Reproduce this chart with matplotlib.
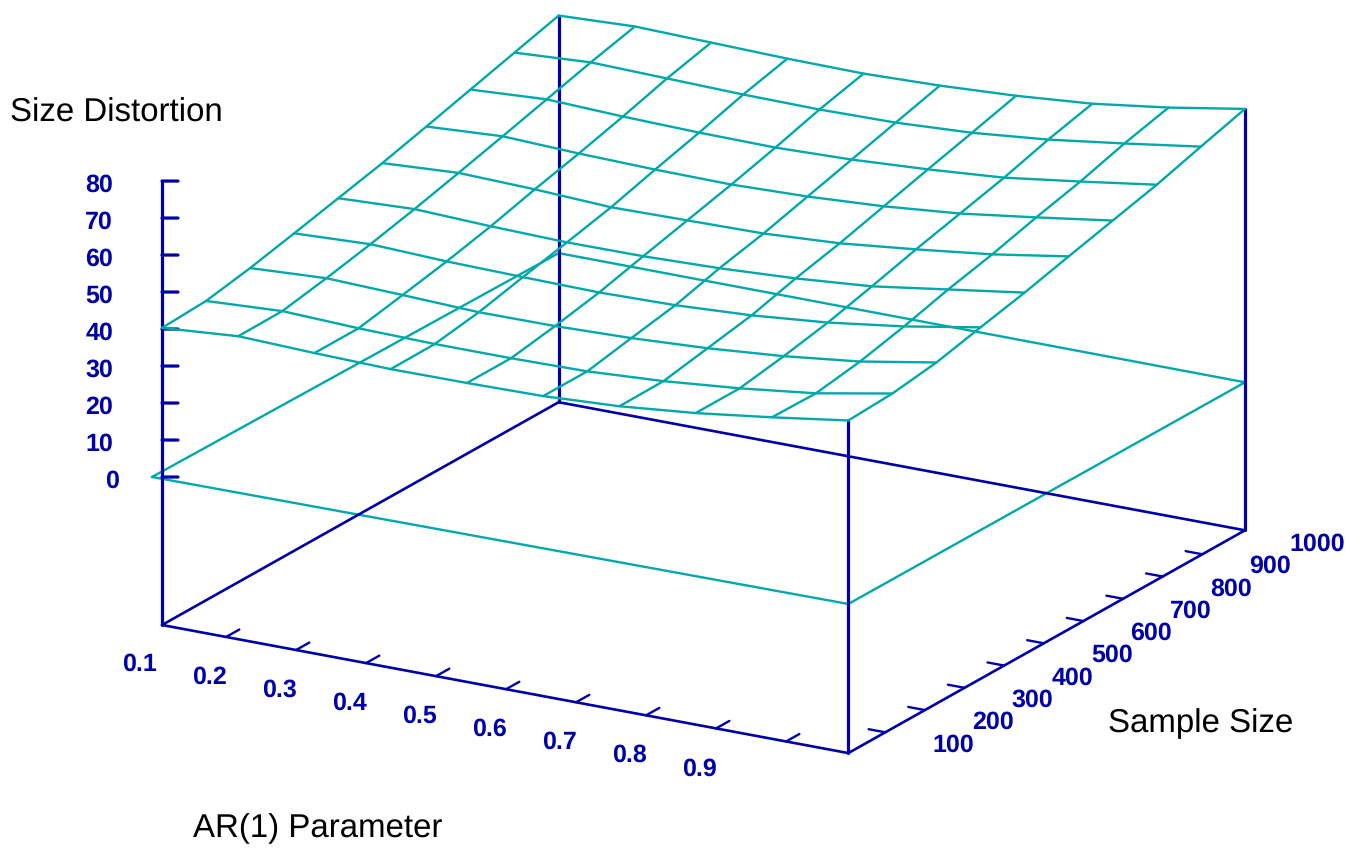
import matplotlib
matplotlib.use("Agg")
import matplotlib.pyplot as plt
from mpl_toolkits.mplot3d import proj3d

# ---- data ----
AR_GRID = [0.1085, 0.2174, 0.3263, 0.4352, 0.5441, 0.6530, 0.7619, 0.8708, 0.9797, 1.0889]
SAMPLE_GRID = [6.7, 117.9, 229.1, 340.3, 451.5, 562.7, 673.9, 785.1, 896.3, 1007.7]
DISTORTION = [
    [40.3, 41.9, 41.2, 40.7, 40.8, 41.1, 42.2, 44.2, 46.9, 49.9],
    [40.9, 42.0, 41.2, 40.8, 40.8, 41.1, 42.3, 44.2, 46.7, 50.5],
    [43.1, 44.2, 43.5, 42.7, 42.8, 43.4, 44.5, 46.2, 48.6, 52.2],
    [45.8, 46.7, 45.9, 45.5, 45.2, 45.6, 46.7, 48.6, 51.4, 55.0],
    [48.6, 49.5, 48.7, 48.2, 48.3, 48.9, 50.0, 51.7, 54.7, 57.7],
    [51.4, 52.6, 52.0, 51.0, 51.3, 51.6, 52.8, 55.0, 57.5, 60.8],
    [54.6, 55.8, 55.0, 54.5, 54.3, 54.9, 56.1, 58.0, 60.8, 63.8],
    [57.9, 59.1, 58.3, 57.8, 57.6, 58.2, 59.4, 61.0, 63.8, 66.8],
    [61.2, 62.4, 61.9, 61.4, 61.2, 61.5, 62.6, 64.6, 67.4, 70.4],
    [64.5, 65.4, 64.9, 64.4, 64.2, 64.8, 65.9, 67.6, 70.4, 73.9],
]
PLANE_X = [0.0942, 1.0889, 1.0889, 0.1085, 0.0942]
PLANE_Y = [6.7, 6.7, 1007.7, 1007.7, 6.7]
PLANE_Z = [-0.5, 0.3, 0.0, 0.3, -0.5]

X_TICKS = [0.2, 0.3, 0.4, 0.5, 0.6, 0.7, 0.8, 0.9, 1.0]
Y_TICKS = [100, 200, 300, 400, 500, 600, 700, 800, 900]
Z_TICKS = [0, 10, 20, 30, 40, 50, 60, 70, 80]
X_LABELS = [0.1, 0.2, 0.3, 0.4, 0.5, 0.6, 0.7, 0.8, 0.9]
Y_LABELS = [100, 200, 300, 400, 500, 600, 700, 800, 900, 1000]

NAVY = "#0000A8"
TEAL = "#00A8A8"
W, H = 1366, 848

plt.rcParams["font.family"] = ["Liberation Sans", "DejaVu Sans"]
plt.rcParams["text.hinting"] = "no_hinting"
plt.rcParams["text.hinting_factor"] = 1
fig = plt.figure(figsize=(W / 100, H / 100), dpi=100, facecolor="white")
ax = fig.add_axes([0.05, 0.0, H / W, 1.0], projection="3d", proj_type="ortho")
ax.computed_zorder = False
ax.set_axis_off()

xmin, xmax = AR_GRID[0], AR_GRID[-1]
ymin, ymax = SAMPLE_GRID[0], SAMPLE_GRID[-1]
zmin, zmax = -40, 80
ax.set_xlim(xmin, xmax, view_margin=0)
ax.set_ylim(ymin, ymax, view_margin=0)
ax.set_zlim(zmin, zmax, view_margin=0)
ax.set_box_aspect((792.3, 794.4, 469.3))
ax.view_init(elev=18.89, azim=-60.04, roll=0)


def to_px(x, y, z):
    xs, ys, _ = proj3d.proj_transform(x, y, z, ax.get_proj())
    return ax.transData.transform((xs, ys))


# Fit the axes box so that the floor lands where the reference has it.
for _ in range(3):
    ax.apply_aspect()
    a = to_px(xmin, ymin, zmin)
    b = to_px(xmax, ymax, zmin)
    pos = ax.get_position()
    side = pos.height * H * (1245 - 162) / (b[0] - a[0])
    ax.set_position([pos.x0, pos.y0, side / W, side / H])
    ax.apply_aspect()
    a = to_px(xmin, ymin, zmin)
    pos = ax.get_position()
    ax.set_position([pos.x0 + (162 - a[0]) / W, pos.y0 + ((H - 625) - a[1]) / H,
                     pos.width, pos.height])
ax.apply_aspect()


def line(xs, ys, zs, color, lw):
    ax.plot(xs, ys, zs, color=color, lw=lw, clip_on=False, solid_capstyle="round")


def label(x, y, z, s, **kw):
    px = to_px(x, y, z)
    fig.text(px[0] / W, (px[1] - 1.5) / H, s, **kw)


# z = 0 plane
line(PLANE_X, PLANE_Y, PLANE_Z, TEAL, 1.7)

# box
line([xmin, xmax, xmax, xmin, xmin], [ymin, ymin, ymax, ymax, ymin], [zmin] * 5, NAVY, 1.9)
line([xmin, xmin], [ymin, ymin], [zmin, zmax], NAVY, 2.3)
line([xmax, xmax], [ymin, ymin], [zmin, DISTORTION[0][-1]], NAVY, 2.3)
line([xmax, xmax], [ymax, ymax], [zmin, DISTORTION[-1][-1]], NAVY, 2.3)
line([xmin, xmin], [ymax, ymax], [zmin, DISTORTION[-1][0]], NAVY, 2.3)

# ticks
for t in X_TICKS:
    line([t, t], [ymin, ymin + 33.5], [zmin, zmin], NAVY, 1.7)
for t in Y_TICKS:
    line([xmax, xmax - 0.0238], [t, t], [zmin, zmin], NAVY, 1.7)
for t in Z_TICKS:
    line([xmin, xmin + 0.0172], [ymin, ymin + 10], [t, t], NAVY, 2.3)

# surface
for yv, row in zip(SAMPLE_GRID, DISTORTION):
    line(AR_GRID, [yv] * len(AR_GRID), row, TEAL, 1.7)
for i, xv in enumerate(AR_GRID):
    line([xv] * len(SAMPLE_GRID), SAMPLE_GRID, [row[i] for row in DISTORTION], TEAL, 1.7)

# tick labels
tick_font = dict(color=NAVY, fontsize=18, fontweight="bold")
for t in X_LABELS:
    label(t + 0.056, ymin - 142, zmin, f"{t:.1f}", ha="center", va="center", **tick_font)
for t in Y_LABELS:
    label(xmax + 0.0714, t - 7.5, zmin, str(t), ha="left", va="center", **tick_font)
for t in Z_TICKS:
    shift = 1 if t == 0 else 0
    label(xmin - 0.0526 + 0.0064 * shift, ymin - 30.8 + 3.8 * shift, t - 0.8, str(t),
          ha="right", va="center", **tick_font)

# axis titles
title_font = dict(color="black", fontsize=23.5, ha="left", va="baseline")
fig.text(10 / W, 1 - 122 / H, "Size Distortion", **title_font)
fig.text(193 / W, 1 - 837 / H, "AR(1) Parameter", **title_font)
fig.text(1108 / W, 1 - 732 / H, "Sample Size", **title_font)

fig.savefig("out.png", dpi=100, facecolor="white")
